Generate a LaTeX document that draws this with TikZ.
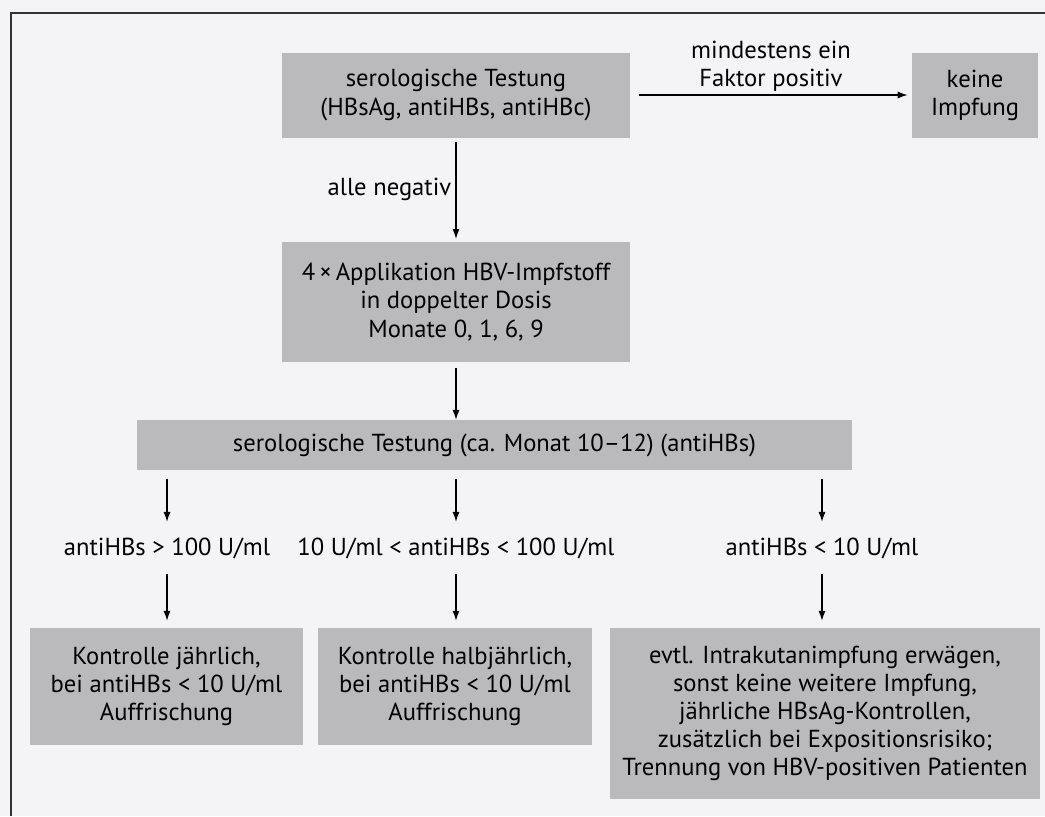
\documentclass[tikz,border=0pt]{standalone}
\usepackage{fontspec}
\setmainfont{PT Sans}
\usetikzlibrary{arrows.meta}
\definecolor{paper}{RGB}{244,244,246}
\definecolor{boxgray}{RGB}{186,186,188}

\begin{document}
\begin{tikzpicture}[x=0.025cm,y=-0.025cm,
    box/.style={fill=boxgray,draw=none,align=center,inner sep=2pt},
    lbl/.style={align=center,inner sep=1pt},
    arr/.style={-{Latex[length=7pt,width=5pt]},thick}]
      \useasboundingbox[fill=paper] (0,0) rectangle (1045,816);
      \draw[thick,black!80] (11,816) -- (11,13) -- (1045,13);

      \fontsize{17.5pt}{20pt}\selectfont

      \node[box,minimum width=348*0.025cm,minimum height=85*0.025cm] (sero) at (456,95)
        {serologische Testung\\(HBsAg, antiHBs, antiHBc)};
      \node[box,minimum width=126*0.025cm,minimum height=85*0.025cm] (keine) at (975,95)
        {keine\\Impfung};
      \node[box,minimum width=348*0.025cm,minimum height=120*0.025cm] (appl) at (456,302)
        {4\,×\,Applikation HBV-Impfstoff\\in doppelter Dosis\\Monate 0, 1, 6, 9};
      \node[box,minimum width=715*0.025cm,minimum height=50*0.025cm] (kontr) at (494.5,445)
        {serologische Testung (ca. Monat 10–12) (antiHBs)};

      \node[lbl] (hoch) at (167,548) {antiHBs > 100 U/ml};
      \node[lbl] (mittel) at (456,548) {10 U/ml < antiHBs < 100 U/ml};
      \node[lbl] (niedrig) at (822,548) {antiHBs < 10 U/ml};

      \node[box,minimum width=273*0.025cm,minimum height=117*0.025cm] (jaehrl) at (166.5,686.5)
        {Kontrolle jährlich,\\bei antiHBs < 10 U/ml\\Auffrischung};
      \node[box,minimum width=274*0.025cm,minimum height=117*0.025cm] (halbj) at (455,686.5)
        {Kontrolle halbjährlich,\\bei antiHBs < 10 U/ml\\Auffrischung};
      \node[box,minimum width=430*0.025cm,minimum height=171*0.025cm] (intra) at (825,713.5)
        {evtl. Intrakutanimpfung erwägen,\\sonst keine weitere Impfung,\\jährliche HBsAg-Kontrollen,\\zusätzlich bei Expositionsrisiko;\\Trennung von HBV-positiven Patienten};

      \draw[arr,shorten <=6pt,shorten >=3pt] (sero.east) -- (keine.west)
        node [midway,above=1pt,lbl] {mindestens ein\\Faktor positiv};
      \draw[arr,shorten <=3pt,shorten >=2pt] (sero.south) -- (appl.north)
        node [midway,left=2pt,lbl] {alle negativ};
      \draw[arr,shorten <=4pt,shorten >=0pt] (appl.south) -- (appl.south |- kontr.north);

      \draw[arr,shorten <=6pt,shorten >=10pt] (kontr.south -| hoch.north) -- (hoch.north);
      \draw[arr,shorten <=6pt,shorten >=10pt] (kontr.south -| mittel.north) -- (mittel.north);
      \draw[arr,shorten <=6pt,shorten >=10pt] (kontr.south -| niedrig.north) -- (niedrig.north);

      \draw[arr,shorten <=10pt,shorten >=5pt] (hoch.south) -- (jaehrl.north -| hoch.south);
      \draw[arr,shorten <=10pt,shorten >=5pt] (mittel.south) -- (halbj.north -| mittel.south);
      \draw[arr,shorten <=10pt,shorten >=5pt] (niedrig.south) -- (intra.north -| niedrig.south);
    \end{tikzpicture}
\end{document}
